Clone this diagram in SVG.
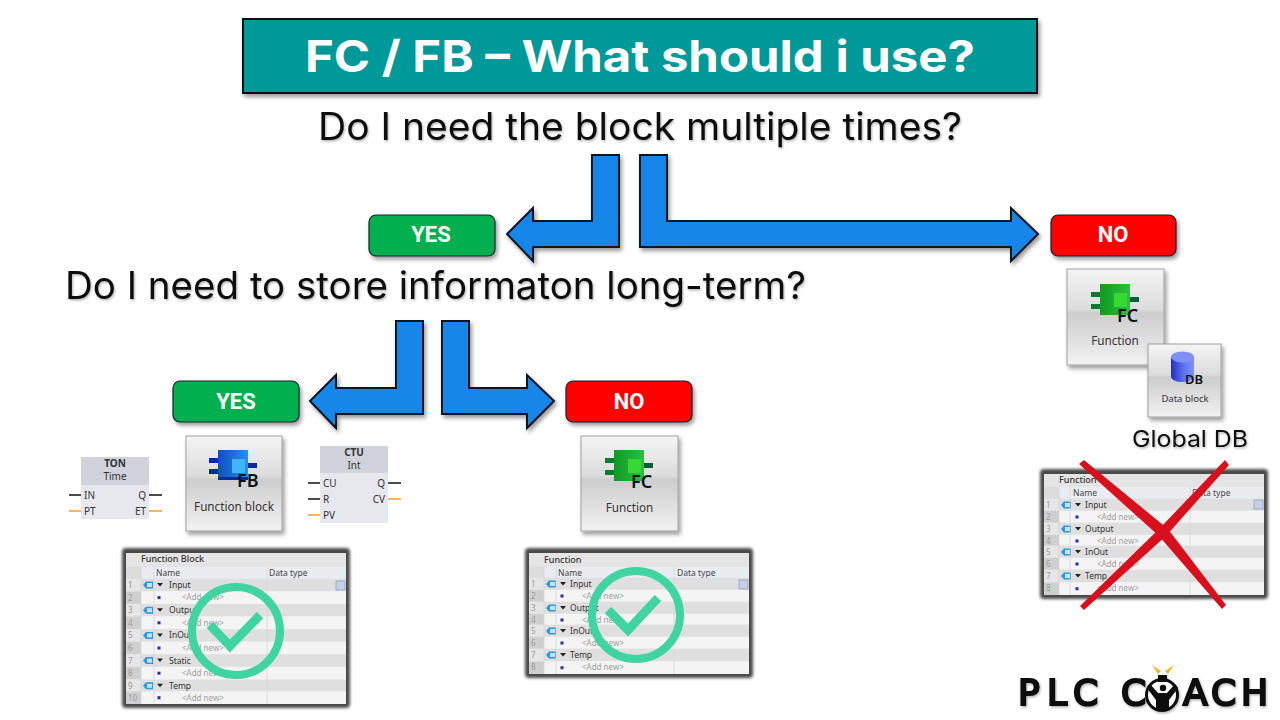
<svg xmlns="http://www.w3.org/2000/svg" width="1280" height="720" viewBox="0 0 1280 720">
<style>
text{font-family:"Noto Sans","Liberation Sans",sans-serif}
.q{font-family:Inter,"Noto Sans",sans-serif;font-size:37.5px;fill:#0d0d0d}
.btn{font-family:Roboto,"Liberation Sans",sans-serif;font-size:22px;font-weight:700;fill:#fff;text-anchor:middle}
.arrow{fill:#1487e8;stroke:#08121e;stroke-width:2;filter:url(#sh)}
.b{stroke:#123;stroke-width:1.2}
.tile{fill:url(#tg);stroke:#a0a0a0;stroke-width:1;filter:url(#sh)}
.lab{fill:#333;text-anchor:middle;font-size:11.7px}
.ic{font-size:18px;font-weight:600;fill:#111}
.fbk{font-size:10px;fill:#333}
.r{text-anchor:end}
.m{text-anchor:middle}
.bold{font-weight:700}
.k{stroke:#111;stroke-width:1.6}
.o{stroke:#f0a020;stroke-width:1.6}
.t{font-size:8.5px;fill:#333}
.a{font-size:8px;fill:#a0a0a0}
.i{font-size:8px;fill:#999}
.h{font-size:8.5px;fill:#444}
.tt{font-size:9px;font-weight:500;fill:#333}
.tick{fill:none;stroke:#3fd4a2}
.frame{fill:#4a4a4a;filter:url(#fr)}
.logo{font-family:"DejaVu Sans",sans-serif;font-size:36px;fill:#0a0a0a;stroke:#0a0a0a;stroke-width:2.2}
</style>
<defs>
<filter id="sh" x="-20%" y="-20%" width="140%" height="140%"><feDropShadow dx="2" dy="3" stdDeviation="2" flood-color="#000" flood-opacity=".4"/></filter>
<filter id="ts" x="-5%" y="-20%" width="110%" height="140%"><feDropShadow dx="1" dy="1.5" stdDeviation="1" flood-color="#000" flood-opacity=".3"/></filter>
<filter id="fr" x="-10%" y="-10%" width="120%" height="120%"><feGaussianBlur stdDeviation="1.5"/></filter>
<linearGradient id="tg" x1="0" y1="0" x2="0" y2="1"><stop offset="0" stop-color="#f4f4f4"/><stop offset=".42" stop-color="#dcdcdc"/><stop offset=".46" stop-color="#cdcdcd"/><stop offset="1" stop-color="#f2f2f2"/></linearGradient>
<linearGradient id="blu" x1="0" y1="0" x2="1" y2="0"><stop offset="0" stop-color="#0d50c0"/><stop offset="1" stop-color="#2a90f0"/></linearGradient>
<linearGradient id="grn" x1="0" y1="0" x2="1" y2="0"><stop offset="0" stop-color="#109a22"/><stop offset="1" stop-color="#2cc040"/></linearGradient>
<linearGradient id="cyl" x1="0" y1="0" x2="1" y2="0"><stop offset="0" stop-color="#2430c0"/><stop offset=".6" stop-color="#6078f0"/><stop offset="1" stop-color="#8090f8"/></linearGradient>
<g id="fbIcon"><rect x="-9" y="8" width="10" height="5" fill="#0a2c98"/><rect x="-9" y="19" width="10" height="5" fill="#0a2c98"/><rect x="29" y="13" width="10" height="5" fill="#0a2c98"/><rect width="30" height="30" fill="url(#blu)"/><rect x="14" y="9" width="13" height="14" fill="#40b4ff"/><rect x="0" y="27" width="30" height="3" fill="#0a2c98"/></g>
<g id="fcIcon"><rect x="-9" y="8" width="10" height="5" fill="#0c7a30"/><rect x="-9" y="20" width="10" height="5" fill="#0c7a30"/><rect x="29" y="13" width="10" height="5" fill="#0a5c3a"/><rect width="30" height="31" fill="url(#grn)"/><rect x="14" y="9" width="13" height="14" fill="#36d832"/></g>
<g id="hdr"><rect width="220" height="12.6" y="-6.3" fill="#dfdfdf"/><rect width="15" height="12.6" y="-6.3" fill="#e6e6e6"/><path d="M17 0L20-3.5H27V3.500H20Z" fill="#2c9ad8"/><rect x="21" y="-2" width="5" height="4" fill="#bfe4f8"/><path d="M31-2h6l-3 3.500z" fill="#222"/></g>
<g id="add"><rect width="220" height="12.6" y="-6.3" fill="#f4f4f4"/><rect width="15" height="12.6" y="-6.3" fill="#cfcfcf"/><rect x="31.500" y="-1.500" width="3" height="3" fill="#2a2ab0"/></g>
</defs>
<g id="title"><rect x="243" y="19" width="794" height="74" fill="#009999" stroke="#0a0a0a" stroke-width="2" filter="url(#sh)"/><text x="640" y="72" text-anchor="middle" font-size="44" font-weight="700" fill="#fff" textLength="670" lengthAdjust="spacingAndGlyphs" style="font-family:Inter,sans-serif">FC / FB – What should i use?</text></g>
<text class="q" x="318" y="140" textLength="644" lengthAdjust="spacingAndGlyphs" filter="url(#ts)">Do I need the block multiple times?</text>
<text class="q" x="65" y="299" textLength="741" lengthAdjust="spacingAndGlyphs" filter="url(#ts)">Do I need to store informaton long-term?</text>
<g id="connectors">
<path class="arrow" d="M592 155H619V247H533V261L507 234 533 208V221H592Z"/>
<path class="arrow" d="M640 155H667V221H1011V208L1038 234 1011 261V247H640Z"/>
<path class="arrow" d="M396 321H423V414H336V428L310 401 336 375V388H396Z"/>
<path class="arrow" d="M442 321H469V388H527V375L554 401 527 428V414H442Z"/>
</g>
<g id="yes1"><rect x="369" y="215" width="126" height="41" rx="7" fill="#00b050" class="b" filter="url(#sh)"/><text class="btn" x="431" y="242">YES</text></g>
<g id="no1"><rect x="1051" y="215" width="125" height="41" rx="7" fill="#ff0000" class="b" filter="url(#sh)"/><text class="btn" x="1113" y="242">NO</text></g>
<g id="yes2"><rect x="173" y="381" width="126" height="41" rx="7" fill="#00b050" class="b" filter="url(#sh)"/><text class="btn" x="236" y="409">YES</text></g>
<g id="no2"><rect x="566" y="381" width="126" height="41" rx="7" fill="#ff0000" class="b" filter="url(#sh)"/><text class="btn" x="629" y="409">NO</text></g>
<g id="fcTileR"><rect class="tile" x="1067" y="269" width="97" height="96"/><use href="#fcIcon" x="1100" y="284"/><text class="ic" x="1117" y="322">FC</text><text class="lab" x="1115" y="345">Function</text></g>
<g id="dbTile"><rect class="tile" x="1148" y="344" width="73" height="73"/><path d="M1171 357V376C1171 384 1194 384 1194 376V357Z" fill="url(#cyl)"/><ellipse cx="1182.500" cy="357" rx="11.500" ry="5.500" fill="#8090f8"/><text x="1185" y="384" font-size="13" font-weight="600" fill="#111">DB</text><text class="lab" x="1185" y="402" style="font-size:9.5px">Data block</text></g>
<text x="1190" y="447" text-anchor="middle" font-size="23" fill="#111" textLength="116" lengthAdjust="spacingAndGlyphs" style="font-family:Inter,sans-serif" filter="url(#ts)">Global DB</text>
<g id="ton"><rect x="81" y="457" width="68" height="62" fill="#e6e8ee"/><rect x="81" y="457" width="68" height="28" fill="#d0d3dc"/><text class="fbk m bold" x="115" y="467">TON</text><text class="fbk m" x="115" y="480">Time</text><text class="fbk" x="84" y="499">IN</text><text class="fbk" x="84" y="515">PT</text><text class="fbk r" x="146" y="499">Q</text><text class="fbk r" x="146" y="515">ET</text><path class="k" d="M69 495H81M149 495H162"/><path class="o" d="M69 511H81M149 511H162"/></g>
<g id="fbTile"><rect class="tile" x="186" y="436" width="96" height="95"/><use href="#fbIcon" x="218" y="450"/><text class="ic" x="237" y="487">FB</text><text class="lab" x="234" y="511">Function block</text></g>
<g id="ctu"><rect x="320" y="446" width="68" height="77" fill="#e6e8ee"/><rect x="320" y="446" width="68" height="27" fill="#d0d3dc"/><text class="fbk m bold" x="354" y="456">CTU</text><text class="fbk m" x="354" y="469">Int</text><text class="fbk" x="323" y="487">CU</text><text class="fbk" x="323" y="503">R</text><text class="fbk" x="323" y="519">PV</text><text class="fbk r" x="385" y="487">Q</text><text class="fbk r" x="385" y="503">CV</text><path class="k" d="M308 483H320M308 499H320M388 483H401"/><path class="o" d="M308 515H320M388 499H401"/></g>
<g id="fcTileM"><rect class="tile" x="581" y="436" width="97" height="95"/><use href="#fcIcon" x="614" y="450"/><text class="ic" x="631" y="488">FC</text><text class="lab" x="629.500" y="512">Function</text></g>

<g id="tableFB">
<rect class="frame" x="122" y="548" width="228" height="160" rx="4"/>
<rect x="126" y="553" width="220" height="151" fill="#f0f0f0"/>
<rect x="126" y="553" width="220" height="14" fill="#e4e4e4"/><rect x="126" y="567" width="220" height="12" fill="#e9edf2"/><rect x="126" y="567" width="15" height="12" fill="#dcdcdc"/>
<text class="tt" x="141" y="562">Function Block</text><text class="h" x="156" y="576">Name</text><text class="h" x="269" y="576">Data type</text>
<use href="#hdr" x="126" y="585"/><use href="#add" x="126" y="597.600"/><use href="#hdr" x="126" y="610.200"/><use href="#add" x="126" y="622.800"/><use href="#hdr" x="126" y="635.400"/><use href="#add" x="126" y="648"/><use href="#hdr" x="126" y="660.600"/><use href="#add" x="126" y="673.200"/><use href="#hdr" x="126" y="685.800"/><use href="#add" x="126" y="697.700"/>
<path d="M141 567V704M154 567V704M267 567V704" stroke="#d4d4d4" stroke-width=".8"/>
<rect x="336" y="581" width="9" height="9" fill="#c4d0e8" stroke="#8898b8" stroke-width=".7"/>
<g class="i"><text x="128" y="588">1</text><text x="128" y="601">2</text><text x="128" y="613">3</text><text x="128" y="626">4</text><text x="128" y="638">5</text><text x="128" y="651">6</text><text x="128" y="664">7</text><text x="128" y="676">8</text><text x="128" y="689">9</text><text x="128" y="701">10</text></g>
<text class="t" x="169" y="588">Input</text><text class="t" x="169" y="613">Output</text><text class="t" x="169" y="638">InOut</text><text class="t" x="169" y="664">Static</text><text class="t" x="169" y="689">Temp</text>
<text class="a" x="182" y="600">&lt;Add new&gt;</text><text class="a" x="182" y="626">&lt;Add new&gt;</text><text class="a" x="182" y="651">&lt;Add new&gt;</text><text class="a" x="182" y="676">&lt;Add new&gt;</text><text class="a" x="182" y="701">&lt;Add new&gt;</text>
</g>
<g id="tickFB"><circle class="tick" cx="236" cy="631" r="44" stroke-width="8"/><path class="tick" d="M210 625L230 646 260 615" stroke-width="9"/></g>

<g id="tableFC">
<rect class="frame" x="525" y="548" width="228" height="130" rx="4"/>
<rect x="529" y="553" width="220" height="121" fill="#f0f0f0"/>
<rect x="529" y="553" width="220" height="14" fill="#e4e4e4"/><rect x="529" y="567" width="220" height="11" fill="#e9edf2"/><rect x="529" y="567" width="15" height="11" fill="#dcdcdc"/>
<text class="tt" x="544" y="563">Function</text><text class="h" x="558" y="576">Name</text><text class="h" x="677" y="576">Data type</text>
<use href="#hdr" x="529" y="584"/><use href="#add" x="529" y="596"/><use href="#hdr" x="529" y="608"/><use href="#add" x="529" y="620"/><use href="#hdr" x="529" y="631"/><use href="#add" x="529" y="643"/><use href="#hdr" x="529" y="655"/><use href="#add" x="529" y="667.700"/>
<path d="M544 567V674M556 567V674M674 567V674" stroke="#d4d4d4" stroke-width=".8"/>
<rect x="739" y="580" width="9" height="9" fill="#c4d0e8" stroke="#8898b8" stroke-width=".7"/>
<g class="i"><text x="531" y="587">1</text><text x="531" y="599">2</text><text x="531" y="611">3</text><text x="531" y="623">4</text><text x="531" y="634">5</text><text x="531" y="646">6</text><text x="531" y="658">7</text><text x="531" y="670">8</text></g>
<text class="t" x="570" y="587">Input</text><text class="t" x="570" y="611">Output</text><text class="t" x="570" y="634">InOut</text><text class="t" x="570" y="658">Temp</text>
<text class="a" x="582" y="599">&lt;Add new&gt;</text><text class="a" x="582" y="623">&lt;Add new&gt;</text><text class="a" x="582" y="646">&lt;Add new&gt;</text><text class="a" x="582" y="670">&lt;Add new&gt;</text>
</g>
<g id="tickFC"><circle class="tick" cx="636" cy="615" r="44" stroke-width="8"/><path class="tick" d="M608 610L628 630 658 598" stroke-width="9"/></g>

<g id="tableR">
<rect class="frame" x="1040" y="469" width="228" height="130" rx="4"/>
<rect x="1044" y="474" width="220" height="121" fill="#f0f0f0"/>
<rect x="1044" y="474" width="220" height="13" fill="#e4e4e4"/><rect x="1044" y="487" width="220" height="12" fill="#e9edf2"/><rect x="1044" y="487" width="15" height="12" fill="#dcdcdc"/>
<text class="tt" x="1059" y="483">Function</text><text class="h" x="1073" y="496">Name</text><text class="h" x="1192" y="496">Data type</text>
<use href="#hdr" x="1044" y="505"/><use href="#add" x="1044" y="517"/><use href="#hdr" x="1044" y="529"/><use href="#add" x="1044" y="541"/><use href="#hdr" x="1044" y="552"/><use href="#add" x="1044" y="564"/><use href="#hdr" x="1044" y="576"/><use href="#add" x="1044" y="588.700"/>
<path d="M1059 487V595M1070 487V595M1190 487V595" stroke="#d4d4d4" stroke-width=".8"/>
<rect x="1254" y="500" width="9" height="9" fill="#c4d0e8" stroke="#8898b8" stroke-width=".7"/>
<g class="i"><text x="1046" y="508">1</text><text x="1046" y="520">2</text><text x="1046" y="532">3</text><text x="1046" y="544">4</text><text x="1046" y="555">5</text><text x="1046" y="567">6</text><text x="1046" y="579">7</text><text x="1046" y="591">8</text></g>
<text class="t" x="1085" y="508">Input</text><text class="t" x="1085" y="532">Output</text><text class="t" x="1085" y="555">InOut</text><text class="t" x="1085" y="579">Temp</text>
<text class="a" x="1097" y="520">&lt;Add new&gt;</text><text class="a" x="1097" y="544">&lt;Add new&gt;</text><text class="a" x="1097" y="567">&lt;Add new&gt;</text><text class="a" x="1097" y="591">&lt;Add new&gt;</text>
</g>
<g id="cross" fill="#d8101e"><path d="M1079 464L1084 460 1168 529 1226 605 1222 609 1159 536Z"/><path d="M1225 460L1229 465 1166 536 1084 610 1080 606 1160 528Z"/></g>

<g id="logo">
<g filter="url(#ts)">
<text class="logo" x="1018 1047 1073" y="705">PLC</text><text class="logo" x="1121" y="705">C</text><text class="logo" x="1183 1211 1241" y="705">ACH</text>
<circle cx="1162" cy="695" r="15.500" fill="#fff" stroke="#0a0a0a" stroke-width="3"/>
<path d="M1150 684L1158 693H1167L1175 684 1178 688 1169 700V710H1156V700L1147 688Z" fill="#0a0a0a"/>
<circle cx="1163" cy="688" r="4" fill="#fff"/><circle cx="1163" cy="688" r="3.200" fill="#0a0a0a"/>
<path d="M1158 675h9v7h-9z" fill="#0a0a0a"/>
</g>
<path d="M1152 665L1161 671 1158 674ZM1174 665L1168 674 1165 671Z" fill="#e8b830"/>
</g>
</svg>
